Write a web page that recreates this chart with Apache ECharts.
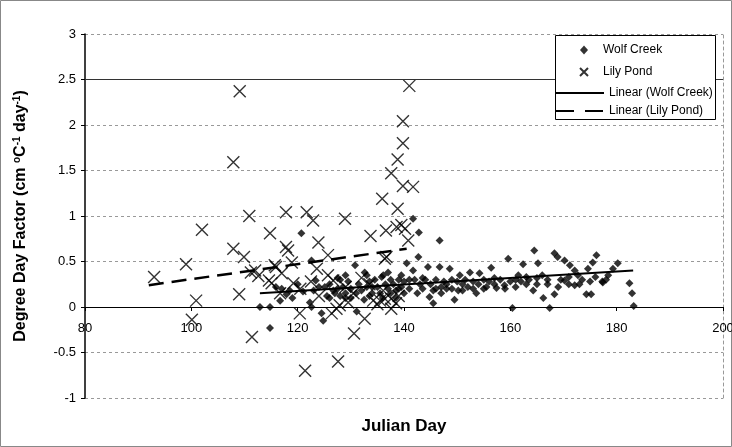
<!DOCTYPE html>
<html><head><meta charset="utf-8">
<script src="https://cdn.jsdelivr.net/npm/echarts@6/dist/echarts.min.js"></script>
<style>html,body{margin:0;padding:0;background:#fff}#c{width:732px;height:447px}</style>
</head><body><div id="c"></div>
<script>
// Wolf Creek (diamonds)
const wolfCreekDay = [112.9,114.8,114.8,115.9,116.7,117.9,117,118.5,119,120.7,120,121,122.3,122.6,122.6,123.4,124.5,124.8,123,124,125.1,125.5,126.7,126,127.5,128,128.5,129,129.5,130,130.8,131.1,131.5,132,132.6,133,133.5,134,134.5,135,135.8,136.1,136.5,137,137.5,138,138.5,139,139.5,140,140.5,141,141.7,141.7,142.8,142.7,142,143,143.5,144,144.5,144.8,145.5,145,146,146.7,146.7,147,147.5,148,148.6,149,149.5,150.2,150,150.5,151,151.5,152,152.4,153,153.6,154.2,154,155,155.5,156.4,156,157.4,157,158.1,158.9,159.6,160,160.4,161,161.5,162.4,162,163,163.5,164.3,164.5,165.2,165,166.2,166,167,167.4,168.3,168.3,168.9,169.5,170.2,170.2,171.2,171,172.1,172.1,172.7,173.5,174.6,174.3,175.2,175.5,176.2,176,177.3,177.4,178.4,179.3,180.2,182.4,182.9,183.2,178,126,127,128,129,130,131,132.5,133.5,134,135.5,136,137.5,138.5,139,140,141,142.5,143.5,145.5,146,147,148,149,151,153,155,157,159,161,163,165,167,169,171,173,175,127.5,129,133,137,139.5];
const wolfCreekDDF = [0.00,0.00,-0.23,0.22,0.07,0.14,0.20,0.18,0.10,0.81,0.25,0.17,0.05,0.00,0.51,0.29,-0.07,-0.15,0.18,0.22,0.22,0.12,0.18,0.25,0.20,0.30,0.22,0.15,0.28,0.20,0.46,-0.05,0.25,0.18,0.38,0.22,0.28,0.15,0.30,0.22,0.33,0.35,0.25,0.20,0.30,0.25,0.18,0.30,0.22,0.28,0.48,0.20,0.97,0.40,0.82,0.55,0.30,0.25,0.20,0.30,0.44,0.11,0.04,0.25,0.30,0.73,0.44,0.22,0.28,0.25,0.42,0.30,0.08,0.18,0.28,0.35,0.25,0.30,0.22,0.38,0.28,0.15,0.37,0.25,0.30,0.22,0.43,0.28,0.21,0.32,0.30,0.24,0.53,0.28,-0.01,0.30,0.35,0.47,0.28,0.33,0.30,0.18,0.62,0.48,0.32,0.10,0.35,0.30,-0.01,0.59,0.14,0.55,0.30,0.51,0.29,0.46,0.33,0.40,0.24,0.35,0.30,0.42,0.14,0.14,0.49,0.57,0.33,0.28,0.27,0.35,0.42,0.48,0.26,0.15,0.01,0.30,0.10,0.15,0.12,0.10,0.10,0.15,0.08,0.12,0.22,0.15,0.10,0.15,0.10,0.20,0.15,0.30,0.15,0.32,0.18,0.20,0.15,0.20,0.20,0.18,0.20,0.20,0.25,0.20,0.22,0.25,0.25,0.25,0.22,0.25,0.25,0.28,0.32,0.35,0.35,0.38,0.35];
// Lily Pond (crosses)
const lilyPondDay = [93.0,99.0,100.9,100.1,102.0,107.9,109.1,107.9,109.9,109.0,110.9,111.4,111.2,112.0,112.6,114.8,115.9,114.6,115.7,115.1,116.7,117.0,117.8,117.8,118.2,118.9,119.2,120.4,121.7,122.9,123.9,123.6,125.7,125.7,126.7,127.3,127.9,126.4,121.4,127.6,128.9,130.6,132.6,131.7,133.7,134.2,135.5,136.4,137.6,136.6,135.9,137.6,138.8,139.8,139.8,141.0,139.8,141.7,138.8,138.6,139.5,140.2,140.8,136.7,136.4,137.6,136.1,120.5,122.5,124,129,130.5,132,133.5,135,138.5,139,129.5];
const lilyPondDDF = [0.33,0.47,0.07,-0.14,0.85,1.59,2.37,0.64,0.55,0.14,1.00,-0.33,0.38,0.40,0.34,0.81,0.44,0.29,0.46,0.26,0.15,0.37,1.04,0.66,0.62,0.49,0.26,-0.07,1.04,0.95,0.71,0.42,0.57,0.35,0.29,-0.02,0.02,-0.07,-0.70,-0.60,0.97,-0.29,-0.13,-1.01,0.78,0.07,0.07,0.09,-0.02,0.84,1.19,1.47,1.62,1.80,2.04,2.43,1.33,1.32,1.08,0.88,0.90,0.86,0.73,0.55,0.53,0.09,0.18,0.20,0.28,0.12,0.22,0.15,0.32,0.25,0.03,0.04,0.12,0.05];
// Linear trend lines (end points)
const wolfTrendDay = [112.9, 183.1];
const wolfTrendDDF = [0.15, 0.40];
const lilyTrendDay = [92.0, 140.5];
const lilyTrendDDF = [0.24, 0.64];
// Axes
const xTicks = [80, 100, 120, 140, 160, 180, 200];
const yTicks = [-1, -0.5, 0, 0.5, 1, 1.5, 2, 2.5, 3];
const seriesNames = ['Wolf Creek', 'Lily Pond', 'Linear (Wolf Creek)', 'Linear (Lily Pond)'];

const zip = (a, b) => a.map((v, i) => [v, b[i]]);
const FONT = '"Liberation Sans", Arial, sans-serif';
const xPath = 'path://M0,0L10,10M10,0L0,10';

const W = 732, H = 447;
const gridTop = 34, gridBottom = 49;
const yMin = yTicks[0], yMax = yTicks[yTicks.length - 1];
const plotH = H - gridTop - gridBottom;
// x axis crosses the value axis at 0 (moved up from the grid bottom)
const xAxisOffset = -plotH * (0 - yMin) / (yMax - yMin);

const chart = echarts.init(document.getElementById('c'), null, {renderer: 'canvas'});
chart.setOption({
  animation: false,
  backgroundColor: '#fff',
  textStyle: {fontFamily: FONT, color: '#000'},
  grid: {left: 85, right: 9, top: gridTop, bottom: gridBottom, containLabel: false, outerBoundsMode: 'none'},
  xAxis: {
    type: 'value', min: xTicks[0], max: xTicks[xTicks.length - 1], interval: 20,
    position: 'bottom', offset: xAxisOffset,
    axisLine: {onZero: false, lineStyle: {color: '#000', width: 1}},
    axisTick: {show: true, length: 4, lineStyle: {color: '#000'}},
    axisLabel: {fontSize: 13, color: '#000', margin: 15, fontFamily: FONT},
    splitLine: {show: false},
    name: 'Julian Day', nameLocation: 'middle', nameGap: 111,
    nameTextStyle: {fontSize: 17, fontWeight: 'bold', color: '#000', fontFamily: FONT}
  },
  yAxis: [{
    type: 'value', min: yMin, max: yMax, interval: 0.5,
    axisLine: {show: true, onZero: false, lineStyle: {color: '#000', width: 1.5}},
    axisTick: {show: true, length: 4, lineStyle: {color: '#000'}},
    axisLabel: {fontSize: 13, color: '#000', margin: 9, fontFamily: FONT},
    splitLine: {show: true, lineStyle: {color: '#999', type: [3, 3], width: 1}},
    name: 'Degree Day Factor (cm {sup|o}C{sup|-1} day{sup|-1})',
    nameLocation: 'middle', nameGap: 55,
    nameTextStyle: {
      fontSize: 16, fontWeight: 'bold', color: '#000', fontFamily: FONT, lineHeight: 18,
      rich: {sup: {fontSize: 10, fontWeight: 'bold', color: '#000', fontFamily: FONT, verticalAlign: 'top', lineHeight: 10}}
    }
  }, {
    type: 'value', position: 'right', min: yMin, max: yMax, interval: 0.5,
    axisLine: {show: true, onZero: false, lineStyle: {color: '#999', type: [3, 3], width: 1}},
    axisTick: {show: false}, axisLabel: {show: false}, splitLine: {show: false}
  }],
  legend: [{
    data: [{name: seriesNames[0], icon: 'diamond'}, {name: seriesNames[1]}],
    orient: 'vertical', left: 574, top: 39, itemWidth: 8, itemHeight: 9, itemGap: 10,
    textStyle: {fontSize: 12, color: '#000', fontFamily: FONT, padding: [0, 0, 0, 10]}, z: 20
  }, {
    data: [{name: seriesNames[2]}, {name: seriesNames[3], lineStyle: {type: [18, 11]}}],
    orient: 'vertical', left: 550, top: 82, itemWidth: 48, itemHeight: 10, itemGap: 6,
    itemStyle: {opacity: 0, color: 'rgba(0,0,0,0)', borderWidth: 0},
    textStyle: {fontSize: 12, color: '#000', fontFamily: FONT}, z: 20
  }],
  graphic: [{
    type: 'rect', z: 10, silent: true,
    shape: {x: 555.5, y: 35.5, width: 160, height: 84},
    style: {fill: '#fff', stroke: '#000', lineWidth: 1}
  }, {
    type: 'rect', z: 0, silent: true,
    shape: {x: 0.5, y: 0.5, width: 731, height: 446},
    style: {fill: 'none', stroke: '#888', lineWidth: 1}
  }],
  series: [{
    name: seriesNames[0], type: 'scatter', symbol: 'diamond', symbolSize: 8,
    itemStyle: {color: '#000'}, data: zip(wolfCreekDay, wolfCreekDDF), z: 3,
    markLine: {silent: true, symbol: 'none', label: {show: false},
      lineStyle: {color: '#333', type: 'solid', width: 1}, data: [{yAxis: yTicks[7]}]}
  }, {
    name: seriesNames[1], type: 'scatter', symbol: xPath, symbolSize: 12,
    itemStyle: {color: 'rgba(0,0,0,0)', borderColor: '#000', borderWidth: 1.4},
    data: zip(lilyPondDay, lilyPondDDF), z: 4
  }, {
    name: seriesNames[2], type: 'line', symbol: 'none', showSymbol: false,
    lineStyle: {color: '#000', width: 2, type: 'solid'}, itemStyle: {color: '#000'},
    data: zip(wolfTrendDay, wolfTrendDDF), z: 5
  }, {
    name: seriesNames[3], type: 'line', symbol: 'none', showSymbol: false,
    lineStyle: {color: '#000', width: 2.5, type: [15, 8]}, itemStyle: {color: '#000'},
    data: zip(lilyTrendDay, lilyTrendDDF), z: 5
  }]
});
</script>
</body></html>
